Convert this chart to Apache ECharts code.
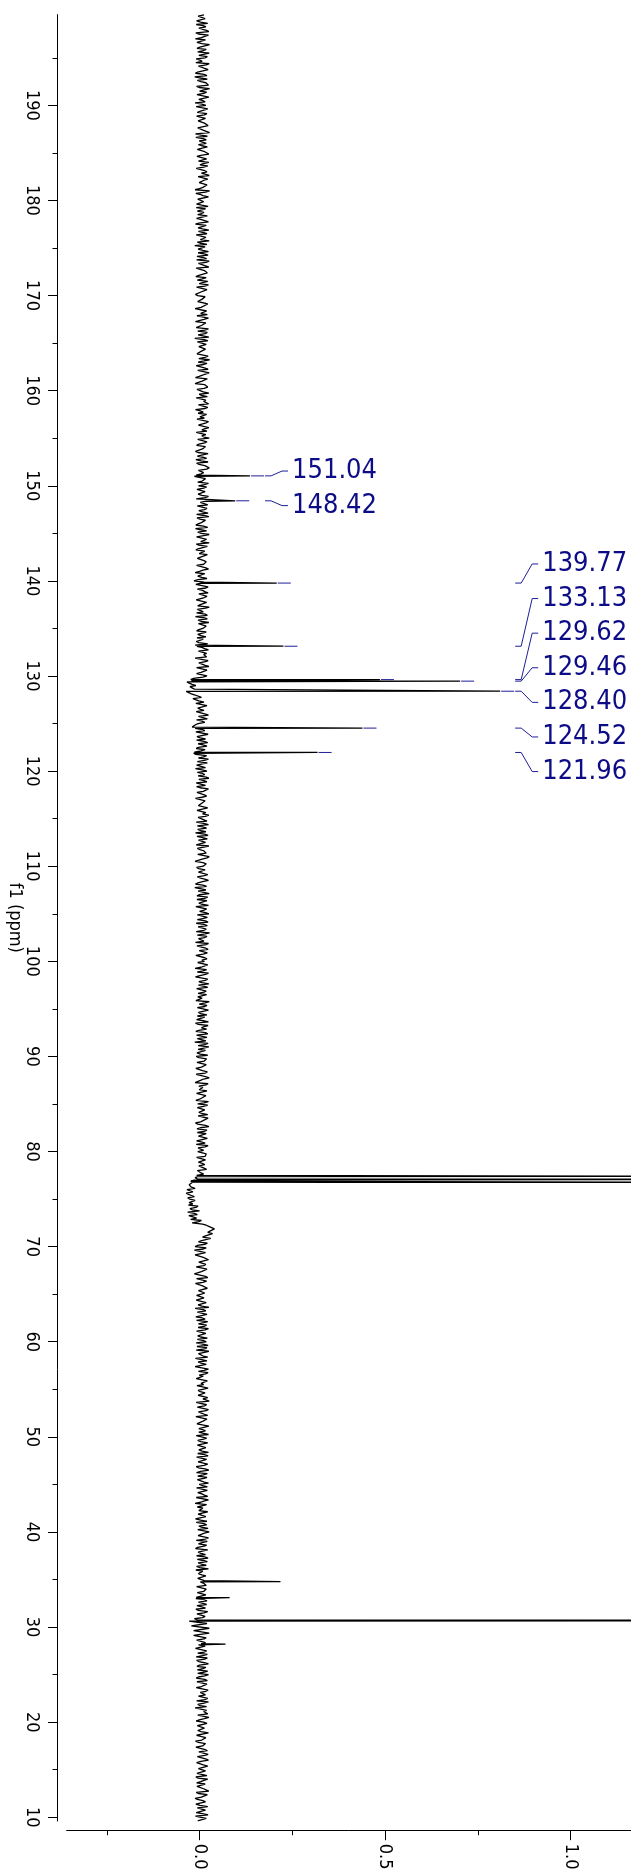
<!DOCTYPE html>
<html><head><meta charset="utf-8">
<script src="https://cdn.jsdelivr.net/npm/echarts@6/dist/echarts.min.js"></script>
<style>html,body{margin:0;padding:0;background:#fff}#c{width:631px;height:1874px}</style>
</head><body><div id="c"></div>
<script>
// ---- data ----
const ppmStart = 199.5;     // first baseline sample (ppm)
const ppmStep = 0.25;       // baseline sampling step (ppm)
const ppmStartMid = 199.375; // in-between baseline samples start here (same step)
// baseline noise, in 1/1000 intensity units, 20 samples (5 ppm) per row
const noiseMilli = [
12,-6,20,3,-9,17,8,25,-3,14,-11,19,6,22,-7,10,26,-2,15,1,
-10,18,7,23,-5,12,-13,21,4,16,-8,27,0,11,-4,20,9,-12,17,5,
24,-6,13,2,19,-9,8,26,-3,15,-11,21,10,-1,18,6,23,-7,12,3,
-8,16,25,1,11,-12,20,7,-4,22,14,-6,17,0,27,-10,9,19,-2,13,
6,-9,21,12,-5,18,3,24,-11,15,8,-3,20,-7,11,26,2,-13,16,9,
-4,23,10,-8,17,1,25,-6,13,19,-10,7,22,-1,14,-12,20,5,-5,18,
11,-7,26,4,-9,16,21,-3,12,-11,19,8,24,-5,15,0,-13,22,6,17,
-2,20,9,-10,14,27,-4,11,3,23,-8,16,-1,21,7,-12,18,12,-6,25,
5,-9,17,13,-3,22,-11,10,19,1,-7,24,8,-5,15,20,-12,6,26,-2,
14,-8,21,3,-4,18,9,-10,23,-1,12,19,-6,4,-14,16,7,24,-3,11,
-9,20,6,15,-12,2,22,-5,13,8,-8,25,1,17,-4,10,-11,19,5,23,
-6,12,26,-2,16,-10,9,21,3,-7,18,11,-13,24,0,14,-5,20,-15,4,
-12,17,8,23,-4,13,-9,19,2,26,-6,10,15,-11,21,5,-3,18,9,-8,
22,4,-7,14,-2,-12,6,24,-5,11,19,-9,16,1,25,-4,13,-8,20,-16,
-22,-28,-10,-30,-18,-32,-12,5,-14,12,-6,18,3,-9,16,-3,21,7,-4,-15,
-12,14,-5,19,2,-8,22,9,-3,15,-14,-10,11,24,-6,17,4,-11,20,8,
-4,25,12,-9,16,1,21,-7,13,6,-12,19,10,-2,23,-10,8,15,-5,20,
11,-6,19,4,-11,23,8,-3,16,-9,21,1,14,-5,26,7,-12,18,10,-2,
20,-8,13,3,24,-4,9,-13,17,12,-1,22,-7,15,6,-10,19,0,25,-5,
8,16,-9,21,-3,11,27,-6,14,2,-11,18,5,23,-2,10,-8,20,13,-4,
17,-12,9,24,1,-7,15,6,-3,22,-10,12,19,-5,8,26,-1,14,-9,21,
3,-6,18,10,-11,23,5,-2,16,-8,20,7,-13,13,25,-4,11,2,-9,19,
12,-3,22,-10,8,15,-6,26,4,-12,17,9,-1,21,-7,14,0,24,-5,10,
-8,19,6,-4,23,11,-11,16,2,20,-6,13,-2,25,7,-9,15,3,-5,18,
15,-4,20,7,-2,12,-6,4,-8,-12,-15,-20,-28,-22,-34,-18,-30,-14,-26,-10,
-18,-4,-26,0,-14,-29,-8,5,-20,18,30,37,22,33,8,26,-3,15,-12,10,
-9,14,-16,7,20,-6,11,-13,17,2,-10,22,-4,9,-15,13,24,-7,5,-11,
13,-5,21,6,-12,17,-2,24,8,-8,11,19,-4,15,-10,22,3,-6,18,9,
-7,14,25,-3,10,-11,20,4,16,-9,12,23,-1,7,-13,19,11,-5,21,2,
17,-8,9,26,-4,13,-10,18,5,22,-6,15,0,-12,20,8,-2,24,-7,11,
3,19,-9,14,7,-5,23,-11,16,1,12,-3,25,-8,10,20,-6,13,-1,21,
-10,16,6,22,-4,11,-12,18,9,-2,24,-7,14,3,-9,19,5,-5,26,8,
-6,15,21,-3,12,-11,17,4,-8,23,10,-4,18,1,-10,14,6,20,-7,2,
6,-8,18,11,-5,14,-10,20,2,-7,16,-3,12,-12,8,-6,-24,25,-18,30,
-20,22,-14,12,-9,4,15,-11,19,-5,8,21,-8,13,0,17,-6,10,24,-3,
14,-7,20,5,-10,17,9,-3,22,-8,12,2,-12,19,7,-5,25,-1,11,16,
-9,18,4,23,-4,13,-11,16,8,-6,21,0,14,-2,24,-8,10,19,-5,12,
6,-10,22,3,15,-7,11,25,-3,17,-12,9,20,1,-6,16,-9,23,4,13
];
// in-between baseline samples (1/1000 intensity units), 20 per row
const noiseMilliMid = [
-4,15,-8,22,10,-2,19,-10,24,5,16,-7,27,1,18,-5,13,21,-9,7,
26,-3,14,9,-11,20,3,-6,17,24,-1,12,19,-7,25,-2,15,6,-9,22,
1,20,-8,16,-4,13,23,-5,11,27,4,-10,18,8,-3,21,-6,14,25,-7,
19,-3,10,22,-9,14,5,26,-7,12,-1,20,9,-12,16,3,24,-5,11,-8,
23,16,-6,5,21,-8,14,-2,18,-4,25,11,-9,17,2,-6,20,15,-4,24,
12,-7,19,26,-3,16,-9,13,21,-2,18,-6,11,24,-8,20,4,-11,15,7,
-5,22,10,-12,19,3,-7,24,-1,17,6,-9,14,21,-4,25,12,-6,18,-2,
16,4,-7,23,-2,12,20,-9,15,-5,26,8,-11,19,-3,14,22,-7,10,-1,
21,-6,11,24,-8,15,2,-4,22,13,-10,18,-3,25,6,-9,17,12,-5,20,
-2,16,8,-11,23,-6,19,4,-8,14,26,-3,11,-9,-18,21,-5,13,19,-7,
15,-4,24,-9,18,7,-6,20,-2,23,12,-7,16,5,-10,22,3,-5,26,-8,
19,3,-9,21,-4,14,-1,25,-6,12,20,-8,17,9,-12,18,6,-4,12,-10,
23,-6,14,-2,20,9,-11,24,-5,16,3,-8,21,11,-4,25,-7,13,-2,18,
-5,17,10,-9,22,-7,14,-3,19,6,-12,23,-2,15,-8,20,4,-6,9,-24,
-34,-20,-26,-14,-36,-22,-8,-18,-2,-10,20,-5,12,-12,24,2,-8,14,-11,-20,
8,-10,23,-7,16,12,-4,20,-9,4,-16,19,-3,13,21,-8,16,7,-6,14,
18,-2,20,3,-8,24,10,-5,19,-11,15,6,-3,22,-7,17,25,-4,12,-9,
24,8,-5,17,13,-7,21,-2,14,25,-6,11,18,-9,20,-4,9,23,-8,15,
-3,22,-6,16,8,-11,19,5,-4,26,-7,13,20,-2,24,-9,12,16,-6,21,
-6,23,11,-4,18,-9,15,20,-3,12,24,-7,17,-1,21,-10,14,6,-5,22,
4,19,-6,16,-11,22,-2,25,13,-8,18,-4,21,7,-10,15,20,-6,24,-3,
20,14,-8,24,-3,12,19,-10,22,5,-6,17,23,-4,11,16,-7,22,-2,14,
-7,18,5,-5,21,-9,16,11,-4,23,-2,14,20,-8,17,6,-10,12,22,-6,
14,-2,22,-9,16,3,-5,25,-7,12,18,-3,21,-8,15,23,-4,11,-10,20,
-8,16,-3,14,-7,19,-10,11,-4,-6,-24,-18,-30,-12,-26,-36,-22,-32,-12,-28,
-30,-10,-20,-32,-6,-18,-24,-2,8,25,40,28,35,16,30,6,21,-6,18,-14,
16,-12,10,24,-2,17,-9,20,5,-14,16,-8,19,-11,8,21,-3,14,-8,12,
-9,18,-4,25,10,-6,20,-10,15,22,-3,12,24,-8,17,-5,21,11,-9,23,
20,-9,13,-6,22,6,-4,18,-12,24,-3,16,10,-9,21,4,-7,23,-4,15,
-4,22,14,-9,19,-6,24,-3,13,-10,20,8,-7,25,-2,16,11,-9,19,-5,
22,-6,17,-2,24,13,-8,19,-4,22,-9,15,3,21,-5,12,-3,24,9,-8,
21,-5,13,-9,24,3,19,-6,14,22,-4,17,-11,20,12,-2,23,-8,13,-4,
24,-9,7,19,-5,22,-4,16,14,-6,21,6,-8,24,9,-3,17,-5,13,10,
18,-4,22,-6,17,-9,12,-3,19,6,-10,22,-7,15,-14,-28,20,-22,26,-16,
26,-16,18,-8,16,-3,20,-6,12,21,-9,14,-2,24,-7,9,22,-5,14,-9,
21,-4,12,-9,23,2,16,-7,14,24,-5,19,-8,11,22,-2,13,-9,20,-6,
13,-5,24,-8,17,6,-3,21,-10,15,-2,23,-6,18,4,-9,22,-3,16,-7,
20,-4,12,-8,19,-2,14,-9,21,5,-6,16,-10,22,-3,19,8,-11,18,-5
];
// peaks: position (ppm) and apex intensity
const peakPpm    = [151.04, 148.42, 139.77, 133.13, 129.62, 129.46, 128.40, 124.52, 121.96, 77.39, 77.07, 76.76, 34.77, 33.09, 30.70, 28.20];
const peakHeight = [0.136,  0.096,  0.208,  0.226,  0.486,  0.702,  0.810,  0.439,  0.318,  1.60,  1.62,  1.58,  0.218, 0.081, 3.00,  0.070];
// labelled peaks (first entries of the peak list)
const labelText  = ['151.04','148.42','139.77','133.13','129.62','129.46','128.40','124.52','121.96'];
const labelGroup = [0,0,1,1,1,1,1,1,1];
// axis ticks
const ppmMajorTicks = [10,20,30,40,50,60,70,80,90,100,110,120,130,140,150,160,170,180,190];
const ppmMinorTicks = [15,25,35,45,55,65,75,85,95,105,115,125,135,145,155,165,175,185,195];
const intMajorTicks = [0, 0.5, 1.0];
const intMinorTicks = [-0.25, 0.25, 0.75];

// ---- build ----
const points = noiseMilli.map((m, i) => [m / 1000, +(ppmStart - i * ppmStep).toFixed(3)]);
noiseMilliMid.forEach((m, i) => points.push([m / 1000, +(ppmStartMid - i * ppmStep).toFixed(3)]));
peakPpm.forEach((p, i) => points.push([peakHeight[i], p]));
points.sort((a, b) => b[1] - a[1]);

const FONT = '"DejaVu Sans Condensed","DejaVu Sans",sans-serif';
const BLUE = '#1e1e98';
const TXT = '#0c0c86';
const X_MIN = -0.358, X_MAX = 1.1625, Y_MIN = 9.61, Y_MAX = 199.53;

const chart = echarts.init(document.getElementById('c'), null, {renderer: 'canvas'});
const baseX = {type: 'value', min: X_MIN, max: X_MAX, position: 'bottom', offset: 9.7, splitLine: {show: false}};
const baseY = {type: 'value', min: Y_MIN, max: Y_MAX, position: 'left', offset: 9.2, splitLine: {show: false}};
chart.setOption({
  animation: false,
  backgroundColor: '#fff',
  grid: {left: 66.7, right: 0, top: 14.7, bottom: 53, containLabel: false, outerBoundsMode: 'none'},
  xAxis: [
    Object.assign({}, baseX, {
      axisLine: {show: true, onZero: false, lineStyle: {color: '#000', width: 1}},
      axisTick: {show: true, length: 9.5, customValues: intMajorTicks, lineStyle: {color: '#000', width: 1}},
      axisLabel: {show: true, customValues: intMajorTicks, rotate: -90, margin: 13, color: '#000',
        fontFamily: FONT, fontSize: 18, formatter: v => v.toFixed(1)}
    }),
    Object.assign({}, baseX, {
      axisLine: {show: false, onZero: false},
      axisTick: {show: true, length: 4.5, customValues: intMinorTicks, lineStyle: {color: '#000', width: 1}},
      axisLabel: {show: false}
    })
  ],
  yAxis: [
    Object.assign({}, baseY, {
      name: 'f1 (ppm)', nameLocation: 'middle', nameRotate: -90, nameGap: 34, nameMoveOverlap: false,
      nameTextStyle: {fontFamily: FONT, fontSize: 18, color: '#000'},
      axisLine: {show: true, onZero: false, lineStyle: {color: '#000', width: 1}},
      axisTick: {show: true, length: 9.5, customValues: ppmMajorTicks, lineStyle: {color: '#000', width: 1}},
      axisLabel: {show: true, customValues: ppmMajorTicks, rotate: -90, margin: 17, color: '#000',
        fontFamily: FONT, fontSize: 18, formatter: v => String(v)}
    }),
    Object.assign({}, baseY, {
      axisLine: {show: false, onZero: false},
      axisTick: {show: true, length: 5, customValues: ppmMinorTicks, lineStyle: {color: '#000', width: 1}},
      axisLabel: {show: false}
    })
  ],
  series: [
    {
      type: 'line', xAxisIndex: 0, yAxisIndex: 0, data: points, symbol: 'none', showSymbol: false,
      clip: true, silent: true, sampling: null, lineStyle: {color: '#000', width: 1.3}
    },
    {
      type: 'custom', coordinateSystem: 'cartesian2d', xAxisIndex: 0, yAxisIndex: 0, clip: false, silent: true, z: 5,
      data: labelText.map((t, i) => [peakHeight[i], peakPpm[i], i]),
      renderItem: (params, api) => {
        const i = api.value(2);
        const g = labelGroup[i];
        const members = [];
        labelGroup.forEach((gg, j) => { if (gg === g) members.push(j); });
        const tips = members.map(j => api.coord([peakHeight[j], peakPpm[j]]));
        const tip = api.coord([peakHeight[i], peakPpm[i]]);
        const cx = Math.max.apply(null, tips.map(t => t[0])) + 15;
        const ys = tips.map(t => t[1]);
        const center = (Math.min.apply(null, ys) + Math.max.apply(null, ys)) / 2;
        const k = members.indexOf(i);
        const ly = center + (k - (members.length - 1) / 2) * 34.6;
        return {
          type: 'group',
          children: [
            {type: 'line', shape: {x1: tip[0] + 1, y1: tip[1], x2: tip[0] + 14, y2: tip[1]},
             style: {stroke: BLUE, lineWidth: 1}},
            {type: 'polyline', shape: {points: [[cx, tip[1]], [cx + 6, tip[1]], [cx + 17, ly], [cx + 23, ly]]},
             style: {stroke: BLUE, lineWidth: 1, fill: 'none'}},
            {type: 'text', style: {text: labelText[i], x: cx + 27, y: ly, fill: TXT,
             font: '27px ' + FONT, textAlign: 'left', textVerticalAlign: 'middle'}}
          ]
        };
      }
    }
  ]
});
</script>
</body></html>
